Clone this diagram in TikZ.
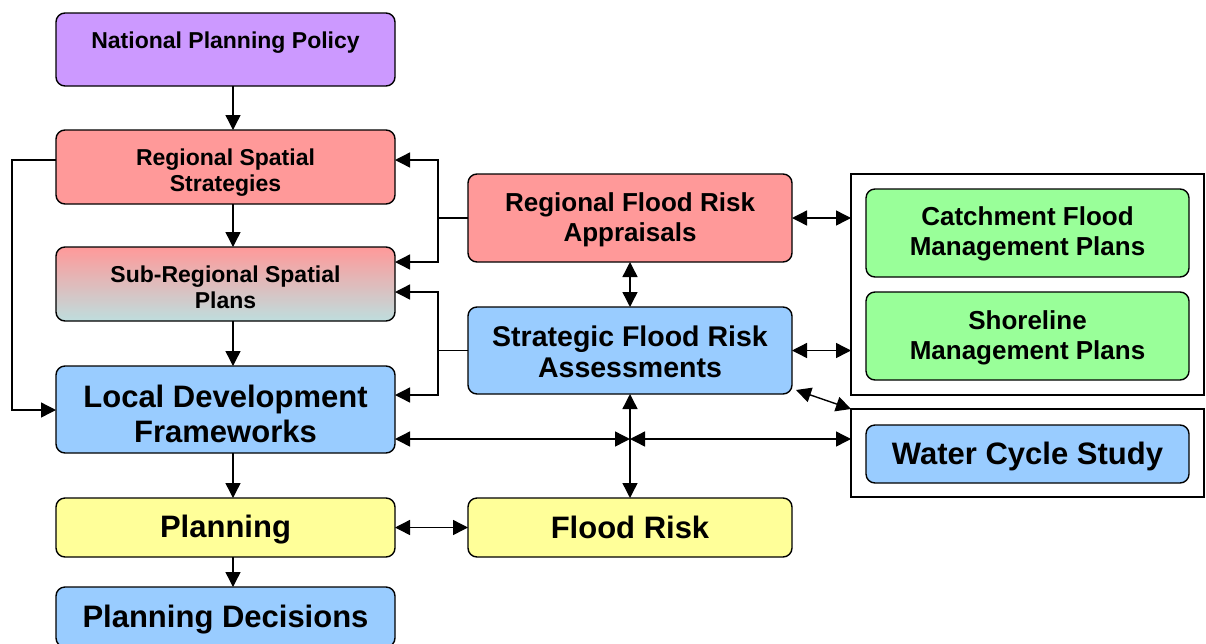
\documentclass[tikz,border=0pt]{standalone}
\usepackage{fontspec}
\setmainfont{Liberation Sans}
\usetikzlibrary{arrows.meta}

\definecolor{lilac}{RGB}{204,153,255}
\definecolor{salmon}{RGB}{255,153,153}
\definecolor{skyblue}{RGB}{153,204,255}
\definecolor{paleyellow}{RGB}{255,255,153}
\definecolor{palegreen}{RGB}{153,255,153}
\definecolor{paleteal}{RGB}{190,222,222}

\begin{document}
\begin{tikzpicture}[x=1pt,y=-1pt,
  box/.style={draw,rounded corners=9pt,line width=1.4pt,align=center,inner sep=0pt,outer sep=0pt},
  grpbox/.style={draw,line width=1.4pt,inner sep=0pt,outer sep=0pt},
  txtS/.style={font=\bfseries\fontsize{23}{26}\selectfont},
  txtM/.style={font=\bfseries\fontsize{26}{30}\selectfont},
  txtMM/.style={font=\bfseries\fontsize{28.5}{31}\selectfont},
  txtL/.style={font=\bfseries\fontsize{31}{35}\selectfont},
  arr/.style={line width=1.4pt,-{Triangle[length=15pt,width=15pt]}},
  darr/.style={line width=1.4pt,{Triangle[length=15pt,width=15pt]}-{Triangle[length=15pt,width=15pt]}}]
\useasboundingbox (0,0) rectangle (1206,643);

% planning column
\node[box,txtS,fill=lilac,minimum width=339,minimum height=73,text height=16pt,text depth=19pt] (npp) at (225.5,49.5) {National Planning Policy};
\node[box,txtS,fill=salmon,minimum width=339,minimum height=74,text height=54.5pt] (rss) at (225.5,167) {Regional Spatial\\Strategies};
\node[box,txtS,top color=salmon,bottom color=paleteal,minimum width=339,minimum height=74,text height=48.5pt] (srsp) at (225.5,284) {Sub-Regional Spatial\\Plans};
\node[box,txtL,fill=skyblue,minimum width=339,minimum height=87,text height=66.5pt] (ldf) at (225.5,409.5) {Local Development\\Frameworks};
\node[box,txtL,fill=paleyellow,minimum width=339,minimum height=59,text height=26.5pt] (plan) at (225.5,527.5) {Planning};
\node[box,txtL,fill=skyblue,minimum width=339,minimum height=60,text height=28.5pt] (decide) at (225.5,617) {Planning Decisions};

% flood risk column
\node[box,txtM,fill=salmon,minimum width=324,minimum height=88,text height=53pt] (rfra) at (630,218) {Regional Flood Risk\\Appraisals};
\node[box,txtMM,fill=skyblue,minimum width=324,minimum height=87,text height=55pt] (sfra) at (630,350.5) {Strategic Flood Risk\\Assessments};
\node[box,txtL,fill=paleyellow,minimum width=324,minimum height=59] (flood) at (630,527.5) {Flood Risk};

% other plans
\node[grpbox,minimum width=353,minimum height=221] (grpA) at (1027.5,284.5) {};
\node[box,txtM,fill=palegreen,minimum width=323,minimum height=88,text height=51pt] (cfmp) at (1027.5,233) {Catchment Flood\\Management Plans};
\node[box,txtM,fill=palegreen,minimum width=323,minimum height=88,text height=53pt] (smp) at (1027.5,336) {Shoreline\\Management Plans};
\node[grpbox,minimum width=353,minimum height=88] (grpB) at (1027.5,453) {};
\node[box,txtL,fill=skyblue,minimum width=323,minimum height=58,text height=26.5pt] (wcs) at (1027.5,454) {Water Cycle Study};

\coordinate (cx) at (233,0);
\coordinate (jn) at (630,439);

% down the planning column
\draw[arr] (cx |- npp.south) -- (cx |- rss.north);
\draw[arr] (cx |- rss.south) -- (cx |- srsp.north);
\draw[arr] (cx |- srsp.south) -- (cx |- ldf.north);
\draw[arr] (cx |- ldf.south) -- (cx |- plan.north);
\draw[arr] (cx |- plan.south) -- (cx |- decide.north);
\draw[arr] ([yshift=7pt]rss.west) -- ++(-44,0) |- ([yshift=-0.5pt]ldf.west);

% feeding back from the flood risk column
\draw[arr] (rfra.west) -- ++(-30,0) |- ([yshift=7pt]rss.east);
\draw[arr] (rfra.west) -- ++(-30,0) |- ([yshift=22pt]srsp.east);
\draw[arr] (sfra.west) -- ++(-30,0) |- ([yshift=-8pt]srsp.east);
\draw[arr] (sfra.west) -- ++(-30,0) |- ([yshift=14.5pt]ldf.east);

% two way links
\draw[darr] (rfra.south) -- (sfra.north);
\draw[darr] (sfra.south) -- (flood.north);
\draw[darr] (jn -| ldf.east) -- (jn);
\draw[darr] (jn) -- (jn -| grpB.west);
\draw[darr] (plan.east) -- (flood.west);
\draw[darr] (rfra.east) -- (rfra.east -| grpA.west);
\draw[darr] (sfra.east) -- (sfra.east -| grpA.west);
\draw[darr] ([shift={(4,-4)}]sfra.south east) -- (grpB.north west);
\end{tikzpicture}
\end{document}
